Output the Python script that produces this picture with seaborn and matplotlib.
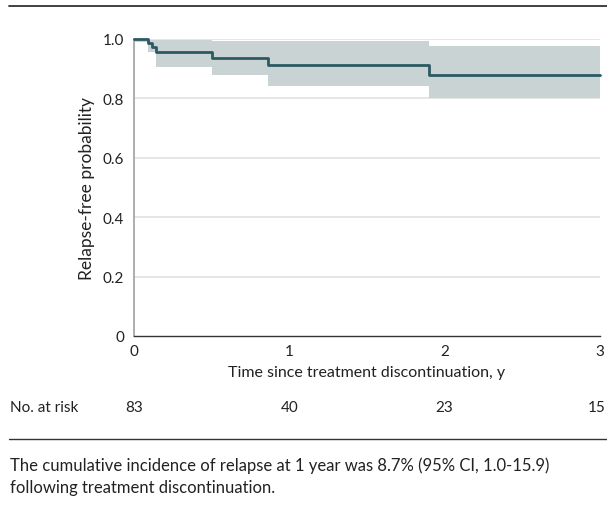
import matplotlib
matplotlib.use("Agg")
import matplotlib.pyplot as plt
import matplotlib.transforms as mtransforms
from matplotlib.lines import Line2D
import seaborn as sns
import pandas as pd

# Kaplan-Meier estimate
times = [0, 0.09, 0.115, 0.14, 0.5, 0.86, 1.9, 3.0]
surv = [1.0, 0.988, 0.974, 0.957, 0.936, 0.913, 0.880, 0.880]
ci_upper = [1.0, 0.995, 0.995, 0.995, 0.994, 0.994, 0.975, 0.975]
ci_lower = [0.99, 0.957, 0.957, 0.907, 0.879, 0.841, 0.800, 0.800]

risk_times = [0, 1, 2, 3]
at_risk = [83, 40, 23, 15]

xticks = [0, 1, 2, 3]
yticks = [0, 0.2, 0.4, 0.6, 0.8, 1.0]
ytick_labels = ["0", "0.2", "0.4", "0.6", "0.8", "1.0"]

caption_lines = ["The cumulative incidence of relapse at 1 year was 8.7% (95% CI, 1.0-15.9)",
                 "following treatment discontinuation."]

LINE = "#2c5a63"
BAND = "#c9d3d4"
GRID = "#e2e2e2"
TXT = "#222222"

sns.set_theme(style="white")
plt.rcParams["font.family"] = ["Lato", "DejaVu Sans"]

fig = plt.figure(figsize=(6.07, 5.06), dpi=100)
ax = fig.add_axes([134 / 607, 1 - 337 / 506, 466 / 607, 297 / 506])

df = pd.DataFrame({"time": times, "surv": surv})

# grid lines
for y in yticks[1:]:
    ax.axhline(y, color=GRID, lw=1.2, zorder=0)

ax.fill_between(times, ci_lower, ci_upper, step="post", color=BAND,
                lw=0, zorder=1, clip_on=False)
sns.lineplot(data=df, x="time", y="surv", drawstyle="steps-post",
             color=LINE, lw=2, ax=ax, zorder=3, clip_on=False)

ax.set_xlim(0, 3)
ax.set_ylim(0, 1)
ax.set_xticks(xticks)
ax.set_xticklabels([str(t) for t in xticks])
ax.set_yticks(yticks)
ax.set_yticklabels(ytick_labels)
ax.tick_params(axis="both", labelsize=11, colors=TXT, length=5, width=1,
               direction="out", pad=2)
ax.tick_params(axis="x", pad=1)

for s in ["top", "right"]:
    ax.spines[s].set_visible(False)
ax.spines["left"].set_color("#a0a0a0")
ax.spines["left"].set_linewidth(1.2)
ax.spines["bottom"].set_color("#333333")
ax.spines["bottom"].set_linewidth(1)

ax.set_xlabel("Time since treatment discontinuation, y", fontsize=11.5,
              color=TXT, labelpad=5)
ax.set_ylabel("Relapse-free probability", fontsize=12.5, color=TXT, labelpad=6)

# number at risk row
trans = mtransforms.blended_transform_factory(ax.transData, fig.transFigure)
y_risk = 1 - 408 / 506
fig.text(10 / 607, y_risk, "No. at risk", fontsize=11, color=TXT, va="center")
for t, n in zip(risk_times, at_risk):
    if t == risk_times[-1]:
        # keep the last count inside the canvas edge
        tr = trans + mtransforms.ScaledTranslation(-3 / 100, 0, fig.dpi_scale_trans)
    else:
        tr = trans
    ax.text(t, y_risk, str(n), transform=tr, ha="center", va="center",
            fontsize=11, color=TXT)

# horizontal rules
fig.add_artist(Line2D([9 / 607, 1], [1 - 6.5 / 506] * 2, transform=fig.transFigure,
                      color="#333333", lw=1.3))
fig.add_artist(Line2D([9 / 607, 1], [1 - 440 / 506] * 2, transform=fig.transFigure,
                      color="#333333", lw=1))

for i, line in enumerate(caption_lines):
    fig.text(10 / 607, 1 - (466 + 22 * i) / 506, line, fontsize=12, color=TXT,
             va="center")

fig.savefig("out.png", dpi=100)
